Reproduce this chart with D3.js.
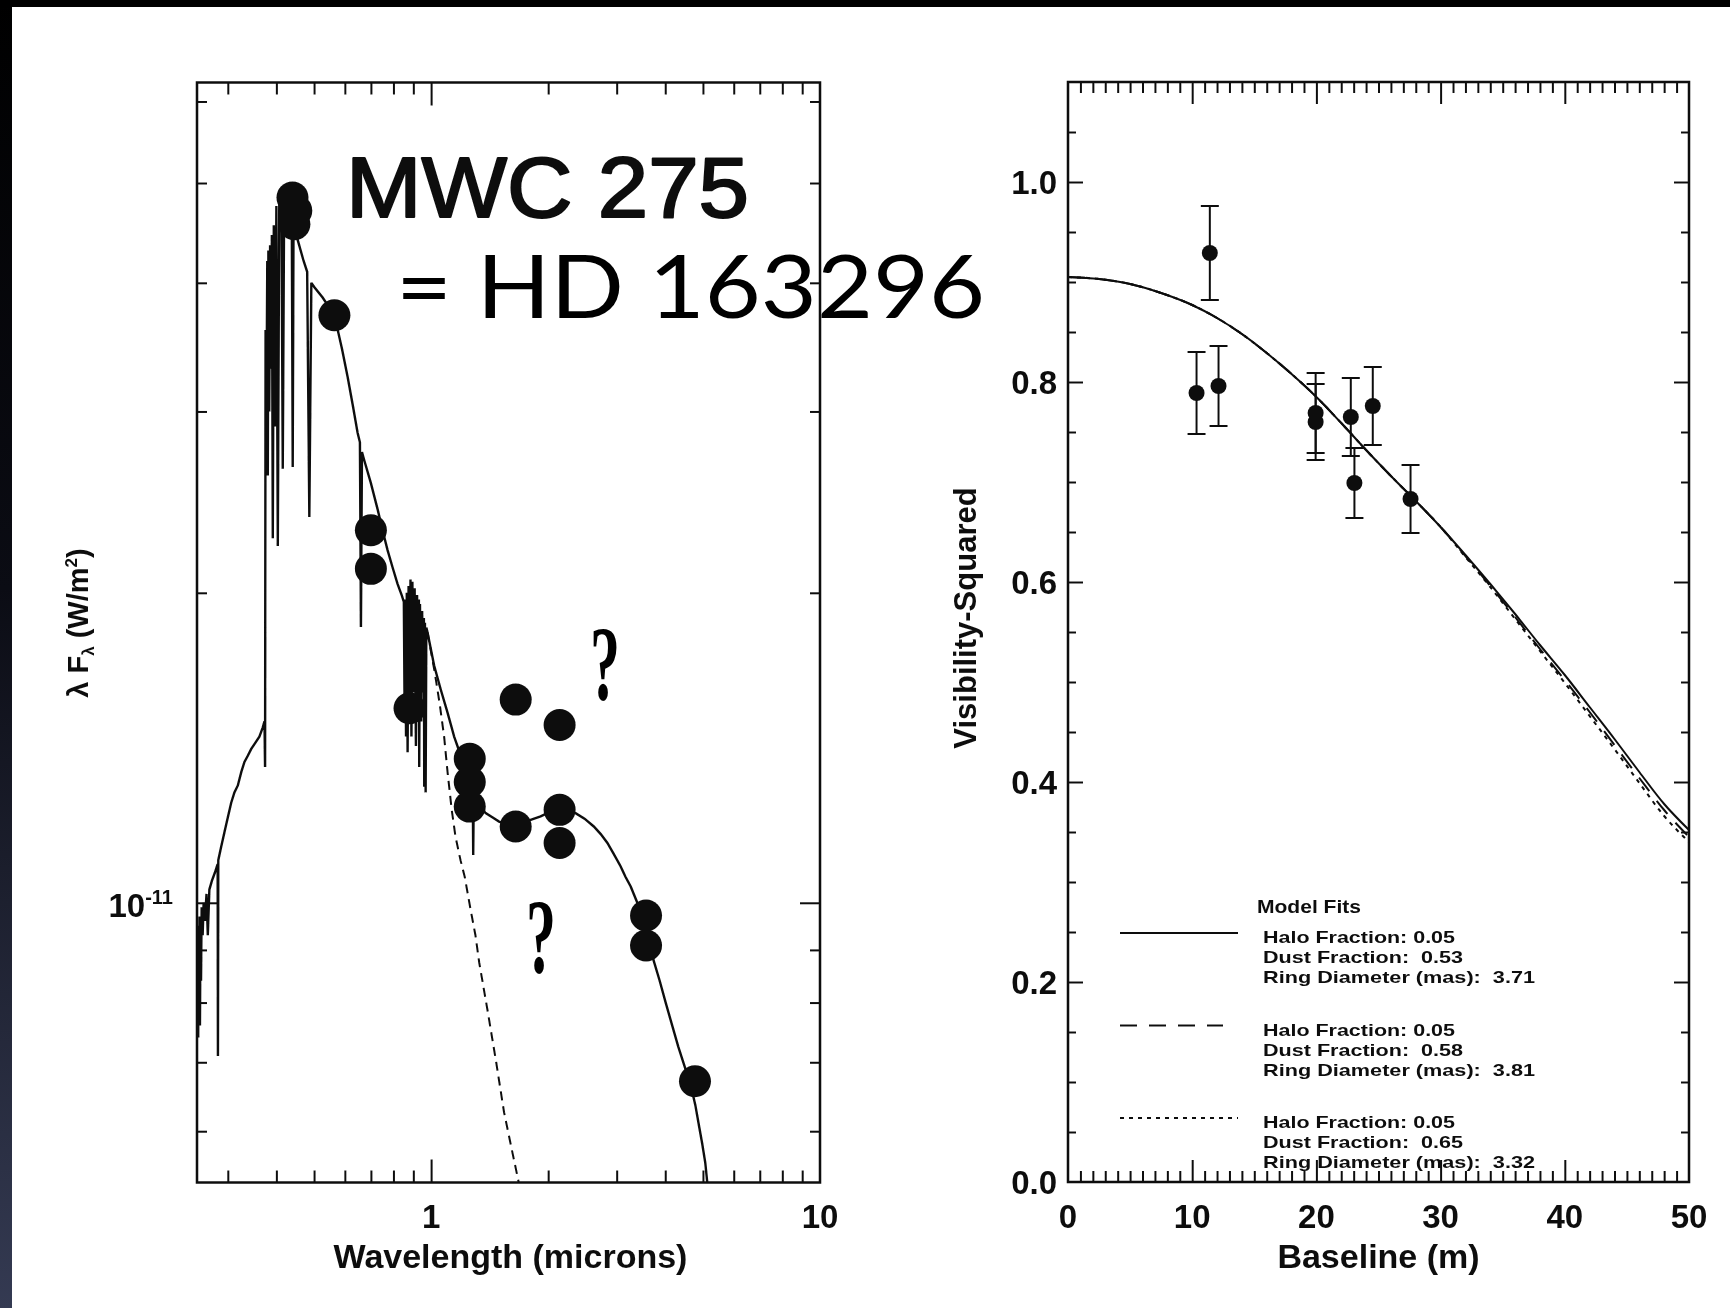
<!DOCTYPE html>
<html>
<head>
<meta charset="utf-8">
<script src="https://cdn.jsdelivr.net/npm/d3@7"></script>
<style>
  html, body { margin: 0; padding: 0; background: #fff; }
  svg { display: block; }
</style>
</head>
<body>
<svg id="fig" width="1730" height="1308"></svg>
<script>
// ---------------- SED panel (fluxes in units of 1e-11 W/m^2) ----------------
const photWave = [0.44, 0.45, 0.445, 0.564, 0.70, 0.70, 0.88, 1.257, 1.257, 1.257, 1.65, 1.65, 2.14, 2.14, 2.14, 3.57, 3.57, 4.77];
const photFlux = [4.84, 4.70, 4.56, 3.72, 2.30, 2.11, 1.545, 1.38, 1.31, 1.24, 1.575, 1.186, 1.488, 1.231, 1.143, 0.972, 0.909, 0.671];

// star + disk model spectrum (solid)
const modelWave = [
  0.2518, 0.2524, 0.2530, 0.2537, 0.2544, 0.2551, 0.2560, 0.2570, 0.2585, 0.2600, 0.2620, 0.2645, 0.2665, 0.2690,
  0.2730, 0.2780, 0.2825, 0.2830, 0.2836, 0.2880, 0.2940, 0.3000, 0.3060, 0.3120, 0.3184, 0.3250, 0.3311, 0.3380,
  0.3444, 0.3530, 0.3617, 0.3691, 0.3728, 0.3741,
  0.3752, 0.3770, 0.3790, 0.3802, 0.3815, 0.3835, 0.3854, 0.3875, 0.3895, 0.3916, 0.3940, 0.3970, 0.4000, 0.4034,
  0.4070, 0.4120, 0.4154, 0.4190, 0.4300, 0.4380, 0.4406, 0.4430, 0.4500, 0.4540, 0.4700, 0.4800, 0.4862, 0.4920,
  0.5010, 0.5260, 0.5640, 0.5900, 0.6100, 0.6300, 0.6470, 0.6560, 0.6599, 0.6640, 0.6730, 0.7000, 0.7285, 0.7500,
  0.7726, 0.7950, 0.8196, 0.8400, 0.8509,
  0.8550, 0.8580, 0.8620, 0.8660, 0.8700, 0.8750, 0.8800, 0.8850, 0.8900, 0.8950, 0.9010, 0.9070, 0.9140, 0.9200,
  0.9260, 0.9300, 0.9320, 0.9360, 0.9430, 0.9480, 0.9550, 0.9580, 0.9600, 0.9640, 0.9680, 0.9720, 0.9790,
  1.018, 1.059, 1.102, 1.146, 1.20, 1.25, 1.28, 1.283, 1.287, 1.33, 1.381, 1.44, 1.495, 1.57, 1.65, 1.73, 1.803,
  1.912, 2.02, 2.14, 2.25, 2.352, 2.48, 2.62, 2.73, 2.84, 2.95, 3.07, 3.16, 3.26, 3.39, 3.57, 3.73, 3.87, 4.01,
  4.16, 4.32, 4.49, 4.66, 4.78, 4.89, 4.98, 5.07, 5.13, 5.20
];
const modelFlux = [
  0.74, 0.95, 0.78, 0.97, 0.76, 0.93, 0.84, 0.99, 0.93, 1.00, 0.96, 1.02, 0.93, 1.03,
  1.05, 1.07, 1.09, 0.71, 1.10, 1.13, 1.17, 1.21, 1.25, 1.28, 1.30, 1.34, 1.37, 1.39,
  1.41, 1.43, 1.45, 1.48, 1.50, 1.355,
  3.6, 2.9, 4.2, 2.6, 4.3, 3.0, 4.35, 3.3, 4.45, 2.26, 4.55, 2.9, 4.75, 2.22,
  4.9, 4.94, 2.64, 4.94, 4.94, 4.9, 2.65, 4.85, 4.6, 4.40, 4.2, 4.1, 2.37, 4.0,
  3.96, 3.87, 3.72, 3.45, 3.24, 3.03, 2.86, 2.80, 1.853, 2.74, 2.69, 2.556, 2.41, 2.30,
  2.20, 2.12, 2.04, 1.99, 1.96,
  1.50, 1.97, 1.45, 2.00, 1.40, 2.03, 1.55, 2.06, 1.45, 2.05, 1.60, 2.02, 1.42, 1.99,
  1.55, 1.97, 1.355, 1.95, 1.50, 1.92, 1.60, 1.89, 1.296, 1.87, 1.28, 1.85, 1.83,
  1.70, 1.61, 1.53, 1.45, 1.38, 1.31, 1.27, 1.113, 1.26, 1.245, 1.222, 1.21, 1.199, 1.192, 1.19, 1.195, 1.204,
  1.213, 1.225, 1.23, 1.228, 1.222, 1.207, 1.186, 1.166, 1.143, 1.115, 1.085, 1.06, 1.037, 1.0, 0.945, 0.88, 0.84, 0.80,
  0.762, 0.725, 0.693, 0.663, 0.636, 0.606, 0.583, 0.559, 0.535, 0.51
];

// stellar photosphere alone (dashed)
const starWave = [0.979, 1.02, 1.052, 1.08, 1.102, 1.13, 1.155, 1.19, 1.22, 1.26, 1.30, 1.33, 1.40, 1.47, 1.54, 1.62, 1.68, 1.72];
const starFlux = [1.83, 1.68, 1.56, 1.45, 1.34, 1.23, 1.16, 1.10, 1.06, 0.99, 0.93, 0.874, 0.782, 0.70, 0.626, 0.571, 0.535, 0.51];

const sedMinorWave = [0.3, 0.4, 0.5, 0.6, 0.7, 0.8, 0.9, 2, 3, 4, 5, 6, 7, 8, 9];
const sedMajorWave = [1];
const sedWaveLabels = [1, 10];
const sedMinorFlux = [0.6, 0.7, 0.8, 0.9, 2, 3, 4, 5, 6];
const sedMajorFlux = [1];

// ---------------- Visibility panel ----------------
const baseline = [10.35, 11.42, 12.12, 19.94, 19.94, 22.77, 23.06, 24.54, 27.58];
const vis2     = [0.789, 0.929, 0.796, 0.769, 0.760, 0.765, 0.699, 0.776, 0.683];
const vis2Err  = [0.041, 0.047, 0.040, 0.040, 0.038, 0.039, 0.035, 0.039, 0.034];

const fitBaseline = [0, 2.5, 5, 7.5, 10, 12, 14, 16, 18, 20, 22, 24, 26, 28, 30, 32, 34, 36, 38, 40, 42, 44, 46, 48, 50];
const fitSolid  = [0.905, 0.903, 0.898, 0.889, 0.877, 0.864, 0.848, 0.829, 0.808, 0.785, 0.759, 0.732, 0.706, 0.681, 0.655, 0.627, 0.598, 0.568, 0.537, 0.507, 0.475, 0.443, 0.410, 0.378, 0.352];
const fitDashed = [0.905, 0.903, 0.898, 0.889, 0.877, 0.864, 0.848, 0.829, 0.808, 0.785, 0.759, 0.732, 0.706, 0.681, 0.655, 0.626, 0.596, 0.565, 0.533, 0.502, 0.470, 0.437, 0.404, 0.372, 0.345];
const fitDotted = [0.905, 0.903, 0.898, 0.889, 0.877, 0.864, 0.848, 0.829, 0.808, 0.785, 0.759, 0.732, 0.706, 0.681, 0.655, 0.625, 0.595, 0.563, 0.531, 0.499, 0.466, 0.433, 0.399, 0.366, 0.340];

const fitHalo = ["0.05", "0.05", "0.05"];
const fitDust = ["0.53", "0.58", "0.65"];
const fitRing = ["3.71", "3.81", "3.32"];
const fitDash = [null, "17,12", "4,5"];

const visXLabels = [0, 10, 20, 30, 40, 50];
const visYLabels = [0, 0.2, 0.4, 0.6, 0.8, 1.0];

// ---------------- drawing ----------------
const svg = d3.select("#fig");
const ink = "#111";
const labelFont = "'Liberation Sans', Arial, sans-serif";

svg.append("rect").attr("width", 1730).attr("height", 1308).attr("fill", "#fff");

const defs = svg.append("defs");
const grad = defs.append("linearGradient").attr("id", "edge").attr("x1", 0).attr("y1", 0).attr("x2", 0).attr("y2", 1);
grad.append("stop").attr("offset", "0%").attr("stop-color", "#000");
grad.append("stop").attr("offset", "45%").attr("stop-color", "#0b0c14");
grad.append("stop").attr("offset", "100%").attr("stop-color", "#343a52");
defs.append("filter").attr("id", "soft").append("feGaussianBlur").attr("stdDeviation", 0.7);

svg.append("rect").attr("x", 0).attr("y", 0).attr("width", 12).attr("height", 1308).attr("fill", "url(#edge)");
svg.append("rect").attr("x", 0).attr("y", 0).attr("width", 1730).attr("height", 7).attr("fill", "#000");

function ticks(g, gen, len) {
  const a = g.append("g").call(gen.tickSize(-len).tickFormat(""));
  a.select(".domain").remove();
  a.selectAll("line").attr("stroke", ink).attr("stroke-width", 2);
  return a;
}

// ===== SED panel =====
const L = { x0: 197, x1: 820, y0: 82.5, y1: 1182.5 };
const xL = d3.scaleLog().domain([0.25, 10]).range([L.x0, L.x1]);
const yL = d3.scaleLog().domain([0.535, 6.26]).range([L.y1, L.y0]);

defs.append("clipPath").attr("id", "clipL").append("rect")
  .attr("x", L.x0).attr("y", L.y0).attr("width", L.x1 - L.x0).attr("height", L.y1 - L.y0);

const gL = svg.append("g").attr("filter", "url(#soft)");

const bL = gL.append("g").attr("transform", `translate(0,${L.y1})`);
ticks(bL, d3.axisBottom(xL).tickValues(sedMinorWave), 12);
ticks(bL, d3.axisBottom(xL).tickValues(sedMajorWave), 23);
const tL = gL.append("g").attr("transform", `translate(0,${L.y0})`);
ticks(tL, d3.axisTop(xL).tickValues(sedMinorWave), 12);
ticks(tL, d3.axisTop(xL).tickValues(sedMajorWave), 23);
const lL = gL.append("g").attr("transform", `translate(${L.x0},0)`);
ticks(lL, d3.axisLeft(yL).tickValues(sedMinorFlux), 10);
ticks(lL, d3.axisLeft(yL).tickValues(sedMajorFlux), 20);
const rL = gL.append("g").attr("transform", `translate(${L.x1},0)`);
ticks(rL, d3.axisRight(yL).tickValues(sedMinorFlux), 10);
ticks(rL, d3.axisRight(yL).tickValues(sedMajorFlux), 20);

const plotL = gL.append("g").attr("clip-path", "url(#clipL)");
const lineL = d3.line().x(d => xL(d[0])).y(d => yL(d[1]));
plotL.append("path").datum(d3.zip(starWave, starFlux)).attr("d", lineL)
  .attr("fill", "none").attr("stroke", ink).attr("stroke-width", 2).attr("stroke-dasharray", "9,6");
plotL.append("path").datum(d3.zip(modelWave, modelFlux)).attr("d", lineL)
  .attr("fill", "none").attr("stroke", ink).attr("stroke-width", 2.4).attr("stroke-linejoin", "miter").attr("stroke-miterlimit", 2);
plotL.selectAll("circle").data(d3.zip(photWave, photFlux)).join("circle")
  .attr("cx", d => xL(d[0])).attr("cy", d => yL(d[1])).attr("r", 16).attr("fill", ink);

gL.append("rect").attr("x", L.x0).attr("y", L.y0).attr("width", L.x1 - L.x0).attr("height", L.y1 - L.y0)
  .attr("fill", "none").attr("stroke", ink).attr("stroke-width", 2.5);

gL.selectAll("text.xl").data(sedWaveLabels).join("text").attr("class", "xl")
  .attr("x", d => xL(d)).attr("y", 1228).attr("text-anchor", "middle")
  .attr("font-family", labelFont).attr("font-weight", "bold").attr("font-size", 33).attr("fill", ink)
  .text(d => d);

const yl = gL.append("text").attr("x", 173).attr("y", yL(1) + 14).attr("text-anchor", "end")
  .attr("font-family", labelFont).attr("font-weight", "bold").attr("font-size", 33).attr("fill", ink);
yl.append("tspan").text("10");
yl.append("tspan").attr("font-size", 20).attr("dy", -13).text("-11");

gL.append("text").attr("x", (L.x0 + L.x1) / 2 + 2).attr("y", 1268).attr("text-anchor", "middle")
  .attr("font-family", labelFont).attr("font-weight", "bold").attr("font-size", 34).attr("fill", ink)
  .text("Wavelength (microns)");

const yt = gL.append("text").attr("transform", "translate(88,623) rotate(-90)").attr("text-anchor", "middle")
  .attr("font-family", labelFont).attr("font-weight", "bold").attr("font-size", 29).attr("fill", ink);
yt.append("tspan").text("λ F");
yt.append("tspan").attr("font-size", 17).attr("dy", 6).text("λ");
yt.append("tspan").attr("dy", -6).text(" (W/m");
yt.append("tspan").attr("font-size", 17).attr("dy", -11).text("2");
yt.append("tspan").attr("dy", 11).text(")");

// ===== Visibility panel =====
const R = { x0: 1068, x1: 1689, y0: 82, y1: 1182 };
const xR = d3.scaleLinear().domain([0, 50]).range([R.x0, R.x1]);
const yR = d3.scaleLinear().domain([0, 1.1]).range([R.y1, R.y0]);

defs.append("clipPath").attr("id", "clipR").append("rect")
  .attr("x", R.x0).attr("y", R.y0).attr("width", R.x1 - R.x0).attr("height", R.y1 - R.y0);

const gR = svg.append("g").attr("filter", "url(#soft)");

const visMinorX = d3.range(1, 50).filter(v => v % 10 !== 0);
const visMajorX = [10, 20, 30, 40];
const visMinorY = d3.range(1, 22).map(i => +(i * 0.05).toFixed(2)).filter(v => Math.round(v * 100) % 20 !== 0);
const visMajorY = [0.2, 0.4, 0.6, 0.8, 1.0];

const bR = gR.append("g").attr("transform", `translate(0,${R.y1})`);
ticks(bR, d3.axisBottom(xR).tickValues(visMinorX), 11);
ticks(bR, d3.axisBottom(xR).tickValues(visMajorX), 22);
const tR = gR.append("g").attr("transform", `translate(0,${R.y0})`);
ticks(tR, d3.axisTop(xR).tickValues(visMinorX), 11);
ticks(tR, d3.axisTop(xR).tickValues(visMajorX), 22);
const lR = gR.append("g").attr("transform", `translate(${R.x0},0)`);
ticks(lR, d3.axisLeft(yR).tickValues(visMinorY), 8);
ticks(lR, d3.axisLeft(yR).tickValues(visMajorY), 15);
const rR = gR.append("g").attr("transform", `translate(${R.x1},0)`);
ticks(rR, d3.axisRight(yR).tickValues(visMinorY), 8);
ticks(rR, d3.axisRight(yR).tickValues(visMajorY), 15);

const plotR = gR.append("g").attr("clip-path", "url(#clipR)");
const lineR = d3.line().x(d => xR(d[0])).y(d => yR(d[1])).curve(d3.curveMonotoneX);
[[fitDotted, "4,5"], [fitDashed, "17,12"], [fitSolid, null]].forEach(([vals, dash]) => {
  plotR.append("path").datum(d3.zip(fitBaseline, vals)).attr("d", lineR)
    .attr("fill", "none").attr("stroke", ink).attr("stroke-width", 2).attr("stroke-dasharray", dash);
});

const pts = d3.zip(baseline, vis2, vis2Err);
const eb = plotR.append("g").attr("stroke", ink).attr("stroke-width", 2);
eb.selectAll("line.v").data(pts).join("line").attr("class", "v")
  .attr("x1", d => xR(d[0])).attr("x2", d => xR(d[0]))
  .attr("y1", d => yR(d[1] - d[2])).attr("y2", d => yR(d[1] + d[2]));
eb.selectAll("line.t").data(pts).join("line").attr("class", "t")
  .attr("x1", d => xR(d[0]) - 9).attr("x2", d => xR(d[0]) + 9)
  .attr("y1", d => yR(d[1] + d[2])).attr("y2", d => yR(d[1] + d[2]));
eb.selectAll("line.b").data(pts).join("line").attr("class", "b")
  .attr("x1", d => xR(d[0]) - 9).attr("x2", d => xR(d[0]) + 9)
  .attr("y1", d => yR(d[1] - d[2])).attr("y2", d => yR(d[1] - d[2]));
plotR.selectAll("circle").data(pts).join("circle")
  .attr("cx", d => xR(d[0])).attr("cy", d => yR(d[1])).attr("r", 8).attr("fill", ink);

gR.append("rect").attr("x", R.x0).attr("y", R.y0).attr("width", R.x1 - R.x0).attr("height", R.y1 - R.y0)
  .attr("fill", "none").attr("stroke", ink).attr("stroke-width", 2.5);

gR.selectAll("text.xr").data(visXLabels).join("text").attr("class", "xr")
  .attr("x", d => xR(d)).attr("y", 1228).attr("text-anchor", "middle")
  .attr("font-family", labelFont).attr("font-weight", "bold").attr("font-size", 33).attr("fill", ink)
  .text(d => d);
gR.selectAll("text.yr").data(visYLabels).join("text").attr("class", "yr")
  .attr("x", 1057).attr("y", d => yR(d) + 12).attr("text-anchor", "end")
  .attr("font-family", labelFont).attr("font-weight", "bold").attr("font-size", 33).attr("fill", ink)
  .text(d => d.toFixed(1));

gR.append("text").attr("x", (R.x0 + R.x1) / 2).attr("y", 1268).attr("text-anchor", "middle")
  .attr("font-family", labelFont).attr("font-weight", "bold").attr("font-size", 34).attr("fill", ink)
  .text("Baseline (m)");
gR.append("text").attr("transform", "translate(976,618) rotate(-90)").attr("text-anchor", "middle")
  .attr("font-family", labelFont).attr("font-weight", "bold").attr("font-size", 31).attr("fill", ink)
  .text("Visibility-Squared");

// legend of model fits: one three-line text block per fit
const leg = gR.append("g");
leg.append("text").attr("x", 1257).attr("y", 913)
  .attr("font-family", labelFont).attr("font-weight", "bold").attr("font-size", 19).attr("fill", ink)
  .attr("textLength", 104).attr("lengthAdjust", "spacingAndGlyphs").text("Model Fits");
fitDust.forEach((dust, i) => {
  const ly = 933 + i * 92.5;
  leg.append("line").attr("x1", 1120).attr("x2", i === 1 ? 1223 : 1238).attr("y1", ly).attr("y2", ly)
    .attr("stroke", ink).attr("stroke-width", 2).attr("stroke-dasharray", fitDash[i]);
  const rows = [
    [`Halo Fraction: ${fitHalo[i]}`, 192, 10],
    [`Dust Fraction:  ${dust}`, 200, 20],
    [`Ring Diameter (mas):  ${fitRing[i]}`, 272, 20]
  ];
  const block = leg.append("text")
    .attr("font-family", labelFont).attr("font-weight", "bold").attr("font-size", 17).attr("fill", ink)
    .attr("xml:space", "preserve");
  let y = ly;
  rows.forEach(([txt, w, dy]) => {
    y += dy;
    block.append("tspan").attr("x", 1263).attr("y", y)
      .attr("textLength", w).attr("lengthAdjust", "spacingAndGlyphs").text(txt);
  });
});

// ===== annotations =====
svg.append("text").attr("x", 346).attr("y", 217).attr("filter", "url(#soft)")
  .attr("font-family", labelFont).attr("font-size", 86).attr("fill", ink)
  .attr("stroke", ink).attr("stroke-width", 2.2).attr("stroke-linejoin", "round")
  .attr("textLength", 403).attr("lengthAdjust", "spacingAndGlyphs").text("MWC 275");
svg.append("text").attr("x", 396).attr("y", 318)
  .attr("font-family", "Lato, 'Open Sans', sans-serif").attr("font-size", 88).attr("fill", "#000")
  .attr("textLength", 589).attr("lengthAdjust", "spacingAndGlyphs").text("= HD 163296");
[[590, 700], [526, 973]].forEach(([qx, qy]) => {
  svg.append("text").attr("x", qx).attr("y", qy)
    .attr("font-family", "'Liberation Serif', 'DejaVu Serif', serif").attr("font-weight", "bold")
    .attr("font-size", 106).attr("fill", "#000")
    .attr("textLength", 30).attr("lengthAdjust", "spacingAndGlyphs").text("?");
});
</script>
</body>
</html>
